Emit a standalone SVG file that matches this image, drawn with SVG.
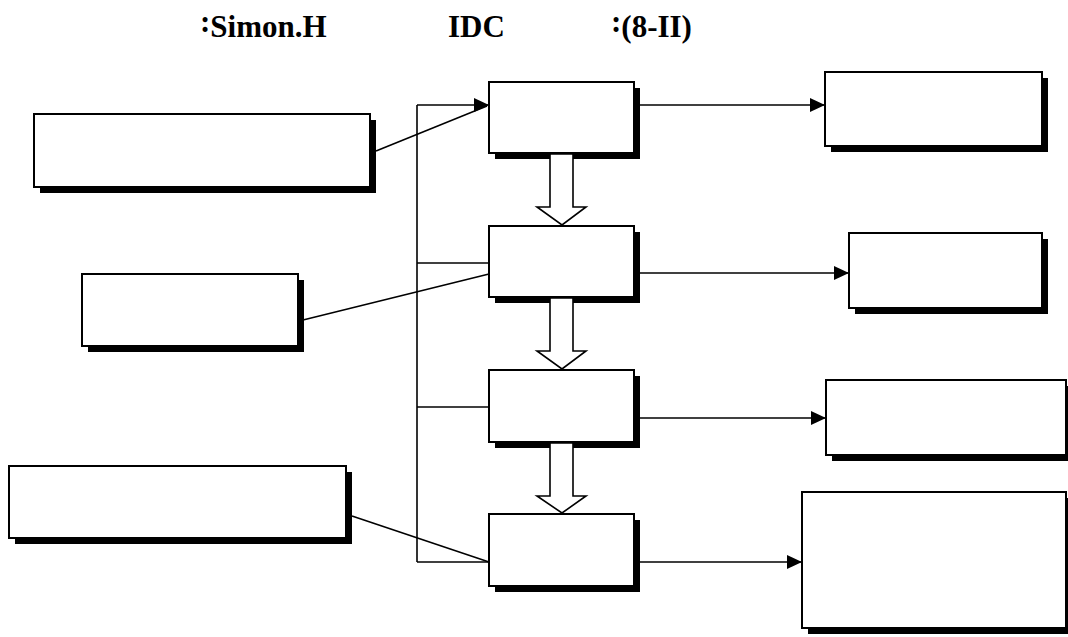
<svg xmlns="http://www.w3.org/2000/svg" width="1068" height="637" viewBox="0 0 1068 637">
<style>
.box{fill:#fff;stroke:#000;stroke-width:2}
.sh{fill:#000}
.ln{fill:none;stroke:#000;stroke-width:1.6}
.blk{fill:#fff;stroke:#000;stroke-width:1.6;stroke-linejoin:miter}
text{font-family:"Liberation Serif",serif;font-weight:700;font-size:31px;fill:#000}
</style>
<defs>
<marker id="ah" markerUnits="userSpaceOnUse" markerWidth="15" markerHeight="14" refX="15" refY="7" orient="auto">
<path d="M0,0 L15,7 L0,14 z" fill="#000"/>
</marker>
</defs>
<rect width="1068" height="637" fill="#fff"/>
<g id="title">
<text x="200" y="37"><tspan dy="-5">:</tspan><tspan dy="5">Simon.H</tspan></text>
<text x="448" y="37">IDC</text>
<text x="611" y="37"><tspan dy="-5">:</tspan><tspan dy="5">(8-II)</tspan></text>
</g>
<g id="connectors">
<line class="ln" x1="417" y1="105" x2="417" y2="562"/>
<line class="ln" x1="417" y1="105" x2="489" y2="105" marker-end="url(#ah)"/>
<line class="ln" x1="376" y1="151" x2="487" y2="106"/>
<line class="ln" x1="417" y1="263" x2="489" y2="263"/>
<line class="ln" x1="303" y1="320" x2="489" y2="274"/>
<line class="ln" x1="417" y1="407" x2="489" y2="407"/>
<line class="ln" x1="417" y1="562" x2="489" y2="562"/>
<line class="ln" x1="352" y1="516" x2="489" y2="562"/>
<line class="ln" x1="640" y1="105" x2="825" y2="105" marker-end="url(#ah)"/>
<line class="ln" x1="640" y1="273" x2="849" y2="273" marker-end="url(#ah)"/>
<line class="ln" x1="640" y1="418" x2="826" y2="418" marker-end="url(#ah)"/>
<line class="ln" x1="640" y1="562" x2="802" y2="562" marker-end="url(#ah)"/>
</g>
<g id="L1"><rect class="sh" x="40" y="120" width="336" height="73"/><rect class="box" x="34" y="114" width="336" height="73"/></g>
<g id="L2"><rect class="sh" x="88" y="280" width="216" height="72"/><rect class="box" x="82" y="274" width="216" height="72"/></g>
<g id="L3"><rect class="sh" x="15" y="472" width="337" height="72"/><rect class="box" x="9" y="466" width="337" height="72"/></g>
<g id="C1"><rect class="sh" x="495" y="88" width="145" height="71"/><rect class="box" x="489" y="82" width="145" height="71"/></g>
<g id="C2"><rect class="sh" x="495" y="232" width="145" height="71"/><rect class="box" x="489" y="226" width="145" height="71"/></g>
<g id="C3"><rect class="sh" x="495" y="376" width="145" height="72"/><rect class="box" x="489" y="370" width="145" height="72"/></g>
<g id="C4"><rect class="sh" x="495" y="520" width="145" height="72"/><rect class="box" x="489" y="514" width="145" height="72"/></g>
<g id="R1"><rect class="sh" x="831" y="78" width="217" height="74"/><rect class="box" x="825" y="72" width="217" height="74"/></g>
<g id="R2"><rect class="sh" x="855" y="239" width="193" height="75"/><rect class="box" x="849" y="233" width="193" height="75"/></g>
<g id="R3"><rect class="sh" x="832" y="386" width="240" height="75"/><rect class="box" x="826" y="380" width="240" height="75"/></g>
<g id="R4"><rect class="sh" x="808" y="498" width="264" height="136"/><rect class="box" x="802" y="492" width="264" height="136"/></g>
<g id="flow-arrows">
<polygon class="blk" points="550,154 573,154 573,207 586,207 562,225 537,207 550,207"/>
<polygon class="blk" points="550,298 573,298 573,351 586,351 562,369 537,351 550,351"/>
<polygon class="blk" points="550,443 573,443 573,496 586,496 562,513 537,496 550,496"/>
</g>
</svg>
